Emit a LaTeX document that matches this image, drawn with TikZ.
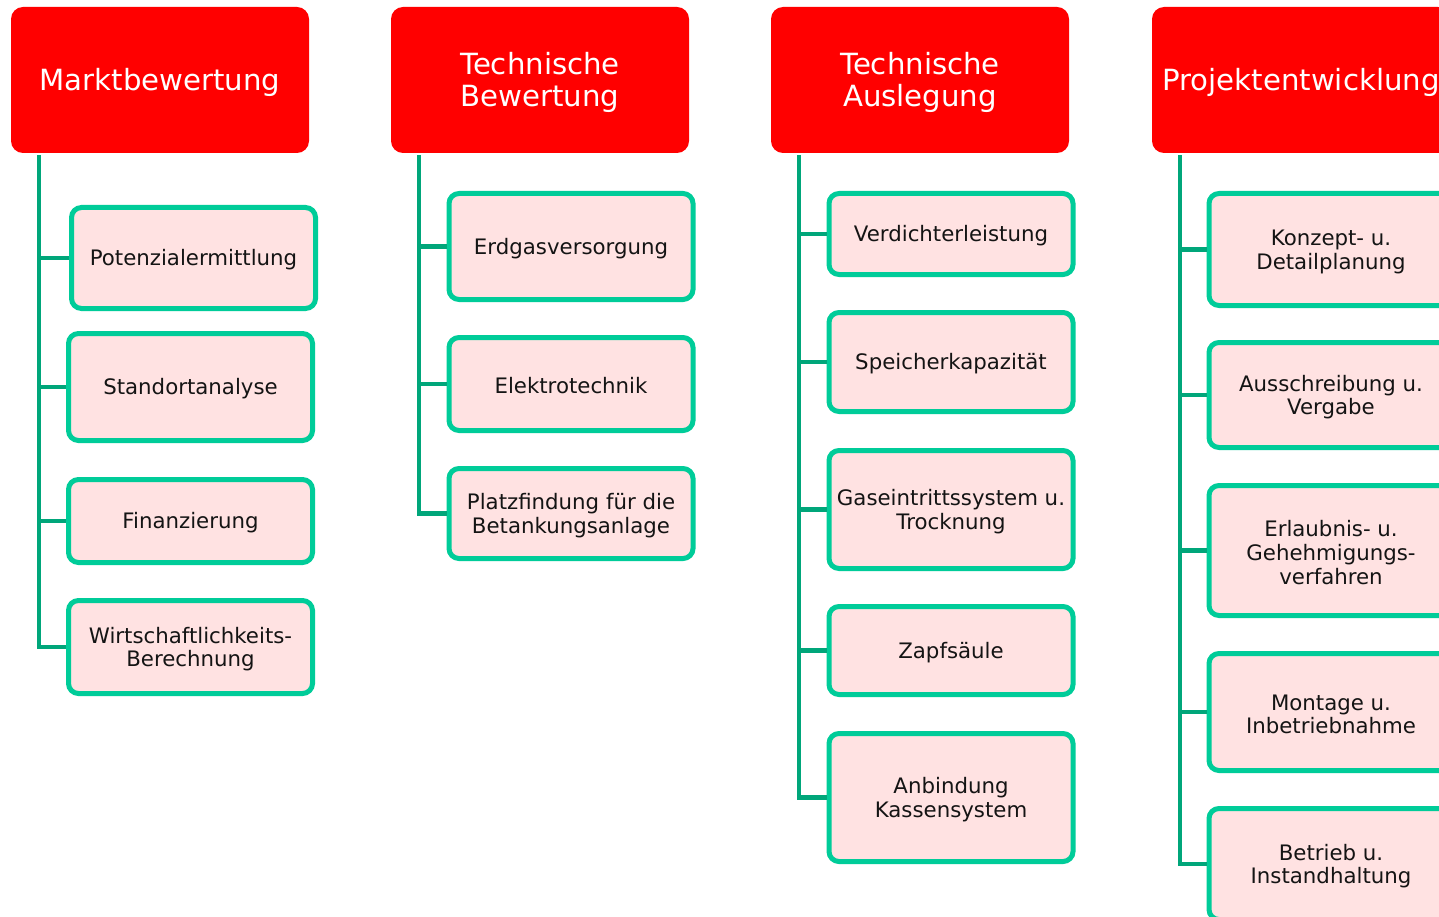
\documentclass[tikz,border=0pt]{standalone}
\usepackage{fontspec}
\setmainfont{DejaVu Sans}
\usetikzlibrary{calc}
\definecolor{hdred}{RGB}{255,0,0}
\definecolor{boxline}{RGB}{0,204,153}
\definecolor{boxfill}{RGB}{255,226,226}
\definecolor{spinecol}{RGB}{0,166,122}
\definecolor{txt}{RGB}{20,20,20}
\tikzset{
  header/.style={fill=hdred, rounded corners=12pt, minimum width=298pt, minimum height=146pt, inner sep=0pt, text=white, align=center, text height=27pt, font=\fontsize{29.2}{32}\selectfont},
  htwo/.style={text height=59pt},
  item/.style={draw=boxline, line width=5pt, fill=boxfill, rounded corners=10pt, minimum width=244pt, inner sep=0pt, text=txt, align=center, text height=20pt, font=\fontsize{21.3}{23.7}\selectfont},
  two/.style={text height=43.9pt},
  three/.style={text height=67.6pt},
  spine/.style={draw=spinecol, line width=4.5pt}
}
\begin{document}
\begin{tikzpicture}[x=1pt,y=-1pt]
\useasboundingbox (0,0) rectangle (1439,917);
\clip (0,0) rectangle (1439,917);
\fill[white] (0,0) rectangle (1439,917);
% headers
\node[header] (h1) at (160,80) {Marktbewertung};
\node[header, htwo] (h2) at (540,80) {Technische\\Bewertung};
\node[header, htwo] (h3) at (920,80) {Technische\\Auslegung};
\node[header] (h4) at (1301,80) {Projektentwicklung};
% spine tops
\coordinate (t1) at ($(h1.south west)+(28,2)$);
\coordinate (t2) at ($(h2.south west)+(28,2)$);
\coordinate (t3) at ($(h3.south west)+(28,2)$);
\coordinate (t4) at ($(h4.south west)+(28,2)$);
% column 1
\node[item, minimum height=101pt] (p1) at (193.5,258) {Potenzialermittlung};
\node[item, minimum height=107pt] (s1) at (190.5,387) {Standortanalyse};
\node[item, minimum height=83pt] (f1) at (190.5,521) {Finanzierung};
\node[item, two, minimum height=93pt] (w1) at (190.5,647) {Wirtschaftlichkeits-\\Berechnung};
% column 2
\node[item, minimum height=106pt] (e2) at (571,246.5) {Erdgasversorgung};
\node[item, minimum height=93pt] (el2) at (571,384) {Elektrotechnik};
\node[item, two, minimum height=90pt] (pl2) at (571,513.5) {Platzfindung für die\\Betankungsanlage};
% column 3
\node[item, minimum height=81pt] (v3) at (951,234) {Verdichterleistung};
\node[item, minimum height=99pt] (sp3) at (951,362) {Speicherkapazität};
\node[item, two, minimum height=118pt] (g3) at (951,509.5) {Gaseintrittssystem u.\\Trocknung};
\node[item, minimum height=88pt] (z3) at (951,650.5) {Zapfsäule};
\node[item, two, minimum height=128pt] (a3) at (951,797.5) {Anbindung\\Kassensystem};
% column 4
\node[item, two, minimum height=112pt] (k4) at (1331,249.5) {Konzept- u.\\Detailplanung};
\node[item, two, minimum height=105pt] (au4) at (1331,395) {Ausschreibung u.\\Vergabe};
\node[item, three, minimum height=130pt] (er4) at (1331,550.5) {Erlaubnis- u.\\Gehehmigungs-\\verfahren};
\node[item, two, minimum height=117pt] (m4) at (1331,712) {Montage u.\\Inbetriebnahme};
\node[item, two, minimum height=111pt] (b4) at (1331,864) {Betrieb u.\\Instandhaltung};
% connectors
\foreach \c in {p1,s1,f1,w1} \draw[spine] (t1) |- (\c.west);
\foreach \c in {e2,el2,pl2} \draw[spine] (t2) |- (\c.west);
\foreach \c in {v3,sp3,g3,z3,a3} \draw[spine] (t3) |- (\c.west);
\foreach \c in {k4,au4,er4,m4,b4} \draw[spine] (t4) |- (\c.west);
\end{tikzpicture}
\end{document}
